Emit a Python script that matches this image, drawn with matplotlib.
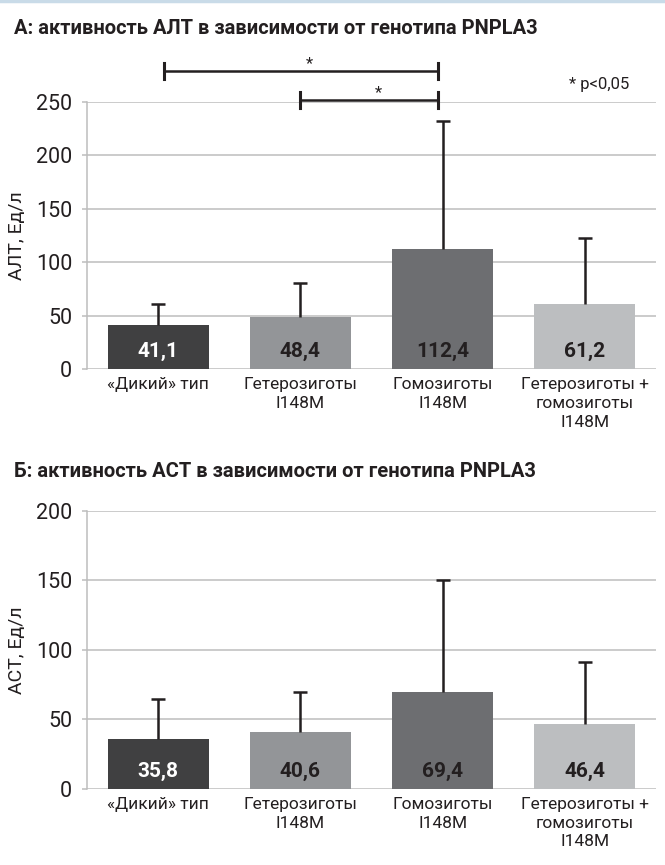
"""ALT / AST activity by PNPLA3 genotype: two stacked bar panels."""
import matplotlib
matplotlib.use("Agg")
import matplotlib.pyplot as plt
from matplotlib.lines import Line2D

plt.rcParams["font.family"] = ["Roboto", "DejaVu Sans"]

categories = ["«Дикий» тип", "Гетерозиготы\nI148M", "Гомозиготы\nI148M",
              "Гетерозиготы +\nгомозиготы\nI148M"]
alt_mean = [41.1, 48.4, 112.4, 61.2]
alt_sd = [19.8, 32.4, 119.8, 61.8]
ast_mean = [35.8, 40.6, 69.4, 46.4]
ast_sd = [29.2, 29.4, 80.6, 44.6]
value_labels_alt = ["41,1", "48,4", "112,4", "61,2"]
value_labels_ast = ["35,8", "40,6", "69,4", "46,4"]
# significance brackets on panel A: (left x, right x, height)
brackets = [(0.04, 1.97, 279), (1.0, 1.97, 252)]

BAR_COLORS = ["#404041", "#939598", "#6d6e71", "#bcbec0"]
TEXT_COLORS = ["white", "#231f20", "#231f20", "#231f20"]
INK = "#231f20"
GRID = "#bdbdbd"

fig = plt.figure(figsize=(6.65, 8.65), dpi=100)
fig.add_artist(Line2D([0, 1], [0.9985, 0.9985], color="#c9dbe8", lw=2.5))

ax1 = fig.add_axes([0.1308, 0.5734, 0.8556, 0.3090])
ax2 = fig.add_axes([0.1308, 0.0879, 0.8556, 0.3217])


def draw_panel(ax, means, sds, labels, ymax, ylabel):
    x = list(range(len(means)))
    ax.set_axisbelow(True)
    ax.yaxis.grid(True, color=GRID, lw=1.1)
    ax.bar(x, means, width=0.71, color=BAR_COLORS, zorder=2)
    _, caps, _ = ax.errorbar(x, means, yerr=[[0] * len(sds), sds], fmt="none",
                             ecolor=INK, elinewidth=1.8, capsize=4.8,
                             capthick=1.8, zorder=3)
    caps[0].set_visible(False)  # only the upper cap
    for xi, lab, tc in zip(x, labels, TEXT_COLORS):
        ax.annotate(lab, xy=(xi, 0), xytext=(0, 12.5), textcoords="offset points",
                    ha="center", va="center", fontsize=15, fontweight="bold",
                    color=tc, zorder=4)
    ax.set_xlim(-0.5, 3.5)
    ax.set_ylim(0, ymax)
    ax.set_yticks(range(0, ymax + 1, 50))
    ax.set_xticks(x, categories)
    for s in ("top", "right", "bottom"):
        ax.spines[s].set_visible(False)
    ax.spines["left"].set_color(GRID)
    ax.spines["left"].set_linewidth(1.1)
    ax.tick_params(axis="y", length=3.6, width=1.1, color=GRID, pad=7,
                   labelsize=15.5, labelcolor=INK)
    ax.tick_params(axis="x", length=0, pad=6, labelsize=12.5, labelcolor=INK)
    for t in ax.get_xticklabels():
        t.set_linespacing(1.3)
    ax.set_ylabel(ylabel, fontsize=14, color=INK, labelpad=7)


draw_panel(ax1, alt_mean, alt_sd, value_labels_alt, 250, "АЛТ, Ед/л")
draw_panel(ax2, ast_mean, ast_sd, value_labels_ast, 200, "АСТ, Ед/л")

for x0, x1, h in brackets:
    ax1.plot([x0, x1], [h, h], color=INK, lw=1.8, clip_on=False)
    for xe in (x0, x1):
        ax1.plot([xe, xe], [h - 7.5, h + 7.5], color=INK, lw=2.2, clip_on=False)
    ax1.annotate("*", xy=((x0 + x1) / 2 + 0.06, h), xytext=(0, 0),
                 textcoords="offset points", ha="center", va="bottom",
                 fontsize=12, color=INK, annotation_clip=False)
ax1.text(2.89, 266, "* p<0,05", fontsize=12, color=INK, ha="left", va="center",
         clip_on=False)

fig.text(0.021, 0.9676, "А: активность АЛТ в зависимости от генотипа PNPLA3",
         fontsize=14.5, fontweight="bold", color=INK, va="center")
fig.text(0.021, 0.4547, "Б: активность АСТ в зависимости от генотипа PNPLA3",
         fontsize=14.5, fontweight="bold", color=INK, va="center")

fig.savefig("out.png", dpi=100)
